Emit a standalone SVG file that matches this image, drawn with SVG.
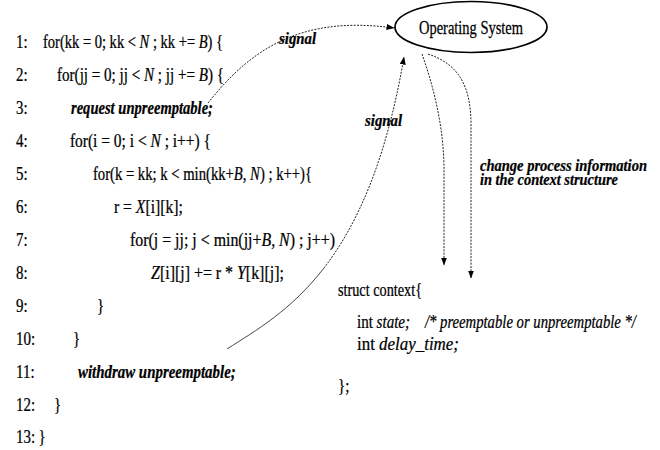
<svg xmlns="http://www.w3.org/2000/svg" width="660" height="450" viewBox="0 0 660 450">
<style>
text{font-family:"Liberation Serif","Times New Roman",serif;fill:#000;stroke:#000;stroke-width:0.25}
.c{font-size:18px}
.i{font-style:italic}
.bi{font-style:italic;font-weight:bold}
.lbl{font-size:16px;font-style:italic;font-weight:bold}
.con{fill:none;stroke:#222;stroke-width:1;stroke-dasharray:2 1.3}
.sol{fill:none;stroke:#333;stroke-width:0.9}
.os{fill:#fff;stroke:#000;stroke-width:1.7}
</style>
<defs>
<marker id="ah" markerWidth="8" markerHeight="6" refX="7.5" refY="3" orient="auto" markerUnits="userSpaceOnUse"><path d="M0,0 L8,3 L0,6 z" fill="#000"/></marker>
</defs>
<rect width="660" height="450" fill="#fff"/>
<g id="code" transform="scale(0.83 1)">
<text class="c" x="19.3" y="48">1:</text>
<text class="c" x="51.8" y="48" textLength="216.9" lengthAdjust="spacingAndGlyphs">for(kk = 0; kk &lt; <tspan class="i">N</tspan> ; kk += <tspan class="i">B</tspan>) {</text>
<text class="c" x="19.3" y="81">2:</text>
<text class="c" x="68.7" y="81" textLength="201.2" lengthAdjust="spacingAndGlyphs">for(jj = 0; jj &lt; <tspan class="i">N</tspan> ; jj += <tspan class="i">B</tspan>) {</text>
<text class="c" x="19.3" y="114">3:</text>
<text class="c bi" x="85.5" y="114" textLength="171.1" lengthAdjust="spacingAndGlyphs">request unpreemptable;</text>
<text class="c" x="19.3" y="147">4:</text>
<text class="c" x="84.3" y="147" textLength="169.9" lengthAdjust="spacingAndGlyphs">for(i = 0; i &lt; <tspan class="i">N</tspan> ; i++) {</text>
<text class="c" x="19.3" y="180">5:</text>
<text class="c" x="112" y="180" textLength="263.9" lengthAdjust="spacingAndGlyphs">for(k = kk; k &lt; min(kk+<tspan class="i">B</tspan>, <tspan class="i">N</tspan>) ; k++){</text>
<text class="c" x="19.3" y="213">6:</text>
<text class="c" x="137.3" y="213" textLength="83.1" lengthAdjust="spacingAndGlyphs">r = <tspan class="i">X</tspan>[i][k];</text>
<text class="c" x="19.3" y="246">7:</text>
<text class="c" x="156.6" y="246" textLength="247" lengthAdjust="spacingAndGlyphs">for(j = jj; j &lt; min(jj+<tspan class="i">B</tspan>, <tspan class="i">N</tspan>) ; j++)</text>
<text class="c" x="19.3" y="279">8:</text>
<text class="c" x="182" y="279" textLength="160" lengthAdjust="spacingAndGlyphs"><tspan class="i">Z</tspan>[i][j] += r * <tspan class="i">Y</tspan>[k][j];</text>
<text class="c" x="19.3" y="312">9:</text>
<text class="c" x="116.9" y="312">}</text>
<text class="c" x="19.3" y="345">10:</text>
<text class="c" x="88" y="345">}</text>
<text class="c" x="19.3" y="378">11:</text>
<text class="c bi" x="94" y="378" textLength="190" lengthAdjust="spacingAndGlyphs">withdraw unpreemptable;</text>
<text class="c" x="19.3" y="411">12:</text>
<text class="c" x="65.1" y="411">}</text>
<text class="c" x="19.3" y="443">13:</text>
<text class="c" x="46.5" y="443">}</text>
</g>
<g id="os">
<ellipse class="os" cx="471" cy="27" rx="76" ry="25.5"/>
<text transform="translate(471 34) scale(0.76 1)" x="0" y="0" text-anchor="middle" font-size="19" textLength="136.8" lengthAdjust="spacingAndGlyphs">Operating System</text>
</g>
<g id="context" transform="scale(0.83 1)">
<text class="c" x="407.2" y="296" textLength="101.2" lengthAdjust="spacingAndGlyphs">struct context{</text>
<text class="c" x="430.1" y="328" textLength="63.9" lengthAdjust="spacingAndGlyphs">int <tspan class="i">state;</tspan></text>
<text class="c i" x="512" y="328" textLength="254.2" lengthAdjust="spacingAndGlyphs">/* preemptable or unpreemptable */</text>
<text class="c" x="430.1" y="350" textLength="122.9" lengthAdjust="spacingAndGlyphs">int <tspan class="i">delay_time;</tspan></text>
<text class="c" x="407.2" y="392">};</text>
</g>
<g id="connectors">
<path class="con" d="M208,103 C250,50 300,15 394,28" marker-end="url(#ah)"/>
<path class="sol" d="M227,349 C256,330.5 291.25,310.25 323.75,268.25"/>
<path class="con" d="M323.75,268.25 C356.25,226.25 386,162.5 404,57" marker-end="url(#ah)"/>
<path class="con" d="M422,54 C434,88 443,125 444,165 L444,265" marker-end="url(#ah)"/>
<path class="con" d="M428,54 C458,64 471,85 471,125 L471,278" marker-end="url(#ah)"/>
<text class="lbl" transform="translate(279 44) scale(0.91 1)" x="0" y="0" textLength="40.7" lengthAdjust="spacingAndGlyphs">signal</text>
<text class="lbl" transform="translate(365 126) scale(0.91 1)" x="0" y="0" textLength="40.7" lengthAdjust="spacingAndGlyphs">signal</text>
<text class="lbl" transform="translate(480 171) scale(0.91 1)" x="0" y="0" textLength="183.5" lengthAdjust="spacingAndGlyphs">change process information</text>
<text class="lbl" transform="translate(480 185) scale(0.91 1)" x="0" y="0" textLength="151.6" lengthAdjust="spacingAndGlyphs">in the context structure</text>
</g>
</svg>
